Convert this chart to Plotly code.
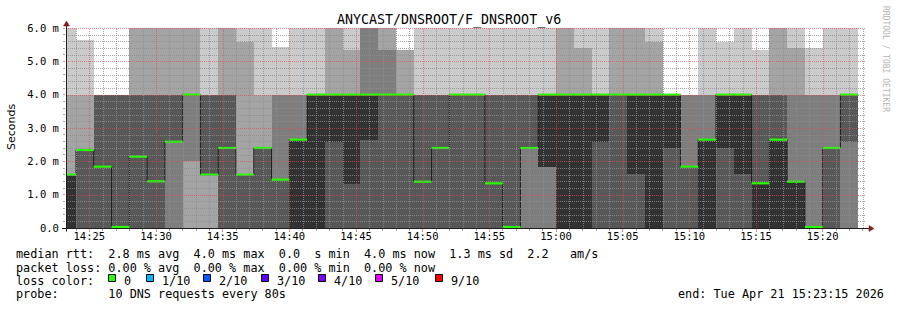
import math
import plotly.graph_objects as go
from datetime import datetime, timedelta

# ---------------- data ----------------
title_text = "ANYCAST/DNSROOT/F_DNSROOT_v6"
y_title = "Seconds"
first_step_start = "2026-04-21 14:22:40"
window_start = "2026-04-21 14:23:15"
window_end = "2026-04-21 15:23:15"
step_seconds = 80

# ten sorted DNS round-trip times per 80 s step (ms); 7.0 = above the 6 ms ceiling
ping1 = [0, 0, 0, 0, 0, 0, 0, 0, 0, 0, 0, 0, 0, 0, 0,
         0, 0, 0, 0, 0, 0, 0, 0, 0, 0, 0, 0, 0, 0, 0,
         0, 0, 0, 0, 0, 0, 0, 0, 0, 0, 0, 0, 0, 0, 0]
ping2 = [0, 0, 0, 0, 0, 0, 0, 0, 0, 0, 0, 0, 0, 0, 0,
         0, 0, 0, 0, 0, 0, 0, 0, 0, 0, 0, 0, 0, 0, 0,
         0, 0, 0, 0, 0, 0, 0, 0, 0, 0, 0, 0, 0, 0, 0]
ping3 = [0, 0, 0, 0, 0, 0, 0, 2.00, 1.60, 0, 0, 0, 0, 0, 0,
         0, 0, 0, 0, 0, 0, 0, 0, 0, 0, 0, 0, 0, 0, 0,
         0, 0, 0, 0, 0, 0, 0, 0, 0, 0, 0, 0, 0, 0, 0]
ping4 = [0, 0, 0, 0, 0, 0, 2.59, 4.00, 1.60, 0, 0, 0, 0, 0, 0,
         0, 0, 0, 0, 0, 0, 0, 0, 0, 0, 0, 2.40, 1.84, 0, 0,
         0, 0, 0, 0, 0, 0, 0, 0, 0, 0, 0, 0, 0.03, 0, 2.59]
ping5 = [0, 2.34, 1.84, 0.03, 2.14, 1.40, 2.59, 4.00, 1.60, 2.40, 1.60, 2.40, 1.45, 0, 0,
         2.59, 1.32, 2.65, 4.00, 4.00, 1.39, 2.40, 4.00, 4.00, 1.34, 0.03, 2.40, 1.84, 0, 0,
         2.59, 4.00, 1.62, 0, 2.40, 1.84, 0, 2.40, 1.62, 0, 0, 0, 0.03, 2.40, 4.00]
ping6 = [1.60, 2.34, 1.84, 0.03, 2.14, 1.40, 2.59, 4.00, 1.60, 2.40, 1.60, 2.40, 1.45, 2.65, 4.00,
         4.00, 4.00, 4.00, 4.00, 4.00, 1.39, 2.40, 4.00, 4.00, 1.34, 0.03, 2.40, 4.00, 4.00, 4.00,
         4.00, 4.00, 4.00, 4.00, 4.00, 1.84, 2.65, 4.00, 4.00, 1.34, 2.65, 1.39, 0.03, 2.40, 4.00]
ping7 = [1.60, 2.34, 4.00, 4.00, 4.00, 4.00, 4.00, 4.00, 4.00, 4.00, 1.60, 2.40, 1.45, 2.65, 4.00,
         4.00, 4.00, 4.00, 4.00, 4.00, 4.00, 4.00, 4.00, 4.00, 4.00, 4.00, 4.00, 4.00, 4.00, 4.00,
         4.00, 4.00, 4.00, 4.00, 4.00, 1.84, 2.65, 4.00, 4.00, 4.00, 4.00, 1.39, 0.03, 2.40, 4.00]
ping8 = [1.60, 2.34, 4.00, 4.00, 4.00, 4.00, 4.00, 4.00, 4.00, 4.00, 1.60, 2.40, 4.00, 4.00, 4.00,
         4.00, 4.00, 7.00, 5.34, 4.00, 4.00, 4.00, 4.00, 4.00, 4.00, 4.00, 4.00, 4.00, 4.00, 4.00,
         4.00, 4.00, 4.00, 4.00, 4.00, 4.00, 4.00, 4.00, 4.00, 4.00, 4.00, 4.00, 4.00, 4.00, 4.00]
ping9 = [4.00, 4.00, 4.00, 4.00, 7.00, 7.00, 7.00, 7.00, 4.00, 7.00, 5.59, 4.00, 4.00, 4.00, 4.00,
         7.00, 5.34, 7.00, 7.00, 5.34, 4.00, 4.00, 4.00, 4.00, 4.00, 4.00, 4.00, 4.00, 7.00, 5.40,
         4.00, 7.00, 7.00, 5.58, 4.00, 4.00, 4.00, 4.00, 4.00, 4.00, 7.00, 5.40, 4.00, 4.00, 4.00]
ping10 = [7.00, 5.64, 4.00, 4.00, 7.00, 7.00, 7.00, 7.00, 7.00, 7.00, 7.00, 7.00, 5.43, 7.00, 7.00,
          7.00, 7.00, 7.00, 7.00, 5.34, 7.00, 7.00, 7.00, 7.00, 7.00, 7.00, 7.00, 7.00, 7.00, 7.00,
          7.00, 7.00, 7.00, 7.00, 4.00, 4.00, 7.00, 5.58, 7.00, 5.35, 7.00, 7.00, 5.40, 7.00, 7.00]
median_ms = [1.60, 2.34, 1.84, 0.03, 2.14, 1.40, 2.59, 4.00, 1.60, 2.40, 1.60, 2.40, 1.45, 2.65, 4.00,
             4.00, 4.00, 4.00, 4.00, 4.00, 1.39, 2.40, 4.00, 4.00, 1.34, 0.03, 2.40, 4.00, 4.00, 4.00,
             4.00, 4.00, 4.00, 4.00, 4.00, 1.84, 2.65, 4.00, 4.00, 1.34, 2.65, 1.39, 0.03, 2.40, 4.00]
loss_class = [0, 0, 0, 0, 0, 0, 0, 0, 0, 0, 0, 0, 0, 0, 0,
              0, 0, 0, 0, 0, 0, 0, 0, 0, 0, 0, 0, 0, 0, 0,
              0, 0, 0, 0, 0, 0, 0, 0, 0, 0, 0, 0, 0, 0, 0]

smoke_colors = ["#cacaca", "#a4a4a4", "#7e7e7e", "#585858", "#323232"]
loss_labels = ["0", "1/10", "2/10", "3/10", "4/10", "5/10", "9/10"]
loss_colors = ["#26ff00", "#00b8ff", "#0059ff", "#5e00ff", "#7e00ff", "#dd00ff", "#ff0000"]

y_tick_vals = [0, 1, 2, 3, 4, 5, 6]
y_tick_text = ["0.0", "1.0 m", "2.0 m", "3.0 m", "4.0 m", "5.0 m", "6.0 m"]
x_tick_text = ["14:25", "14:30", "14:35", "14:40", "14:45", "14:50",
               "14:55", "15:00", "15:05", "15:10", "15:15", "15:20"]

legend_rtt = "median rtt:  2.8 ms avg  4.0 ms max  0.0  s min  4.0 ms now  1.3 ms sd  2.2   am/s"
legend_loss = "packet loss: 0.00 % avg  0.00 % max  0.00 % min  0.00 % now"
legend_color = "loss color:"
legend_probe = "probe:       10 DNS requests every 80s"
legend_end = "end: Tue Apr 21 15:23:15 2026"
watermark = "RRDTOOL / TOBI OETIKER"

# ---------------- layout constants ----------------
W, H = 897, 310
PL, PR, PT, PB = 66, 866, 28, 228
Y_MAX = 6.0
MONO = "DejaVu Sans Mono"
GRID = "rgba(143,143,143,0.8)"
MGRID = "rgba(222,79,79,0.65)"
AXIS = "#1f1f1f"
ARROW = "#801f1f"


def px(x):
    return (x - PL) / (PR - PL)


def py(y):
    return (PB - y) / (PB - PT)


fmt = "%Y-%m-%d %H:%M:%S"
t0 = datetime.strptime(first_step_start, fmt)
ws = datetime.strptime(window_start, fmt)
we = datetime.strptime(window_end, fmt)
sec_per_px = (we - ws).total_seconds() / (PR - PL)


def snap_x(t):
    # paper x of the centre of the pixel column holding time t
    p = PL + (t - ws).total_seconds() / sec_per_px
    return px(math.floor(p + 0.5) + 0.5)


def snap_y(v):
    p = PB - v * (PB - PT) / Y_MAX
    return py(math.floor(p + 0.5) + 0.5)


n = len(median_ms)
starts = [t0 + timedelta(seconds=step_seconds * k) for k in range(n)]
centers = [s + timedelta(seconds=step_seconds / 2) for s in starts]
ends = [s + timedelta(seconds=step_seconds) for s in starts]
pings = [ping1, ping2, ping3, ping4, ping5, ping6, ping7, ping8, ping9, ping10]

fig = go.Figure()

# smoke: band i spans ping(i) .. ping(11-i), darker towards the middle
for i in range(5):
    lo = pings[i]
    hi = pings[9 - i]
    fig.add_trace(go.Bar(
        x=centers, base=lo, y=[h - l for l, h in zip(lo, hi)],
        width=step_seconds * 1000,
        marker=dict(color=smoke_colors[i], line=dict(width=0)),
        hoverinfo="skip", showlegend=False))

# thin median step line
fig.add_trace(go.Scatter(
    x=starts + [ends[-1]],
    y=median_ms + [median_ms[-1]],
    mode="lines", line=dict(color="#202020", width=1, shape="hv"),
    hoverinfo="skip", showlegend=False))

# loss-coloured median segments (no vertical joins)
for c, col in enumerate(loss_colors):
    xs, ys = [], []
    for s, e, m, lc in zip(starts, ends, median_ms, loss_class):
        if lc == c:
            xs += [s, e, None]
            ys += [m, m, None]
    if xs:
        fig.add_trace(go.Scatter(x=xs, y=ys, mode="lines", line=dict(color=col, width=2.2),
                                 connectgaps=False, hoverinfo="skip", showlegend=False))

# ---------------- grid (rrdtool draws it on top) ----------------
shapes = []
x_tick_vals = []
minor_x = []
t = ws.replace(second=0) + timedelta(minutes=1)
while t <= we:
    if t.minute % 5 == 0:
        x_tick_vals.append(t)
    else:
        minor_x.append(t)
    t += timedelta(minutes=1)
x_tick_vals = x_tick_vals[:len(x_tick_text)]
minor_y = [k / 5 for k in range(1, 30) if k % 5]
dash = "1px,1px"
for t in minor_x:
    xp = snap_x(t)
    shapes.append(dict(type="line", xref="paper", yref="paper", x0=xp, x1=xp, y0=0, y1=1,
                       line=dict(color=GRID, width=1, dash=dash), layer="above"))
for v in minor_y:
    yp = snap_y(v)
    shapes.append(dict(type="line", xref="paper", yref="paper", x0=0, x1=1, y0=yp, y1=yp,
                       line=dict(color=GRID, width=1, dash=dash), layer="above"))
for t in x_tick_vals:
    xp = snap_x(t)
    shapes.append(dict(type="line", xref="paper", yref="paper", x0=xp, x1=xp, y0=0, y1=1,
                       line=dict(color=MGRID, width=1, dash=dash), layer="above"))
for v in y_tick_vals[1:]:
    yp = snap_y(v)
    shapes.append(dict(type="line", xref="paper", yref="paper", x0=0, x1=1, y0=yp, y1=yp,
                       line=dict(color=MGRID, width=1, dash=dash), layer="above"))

# axes with arrows
shapes.append(dict(type="line", xref="paper", yref="paper", x0=px(62), x1=px(869), y0=py(228.5), y1=py(228.5),
                   line=dict(color=AXIS, width=1), layer="above"))
shapes.append(dict(type="line", xref="paper", yref="paper", x0=px(66.5), x1=px(66.5), y0=py(231.5), y1=py(25),
                   line=dict(color=AXIS, width=1), layer="above"))
shapes.append(dict(type="path", xref="paper", yref="paper",
                   path=f"M {px(869)},{py(225.5)} L {px(874)},{py(228.5)} L {px(869)},{py(231.5)} Z",
                   fillcolor=ARROW, line=dict(color=ARROW, width=0.5), layer="above"))
shapes.append(dict(type="path", xref="paper", yref="paper",
                   path=f"M {px(63.5)},{py(26)} L {px(66.5)},{py(21)} L {px(69.5)},{py(26)} Z",
                   fillcolor=ARROW, line=dict(color=ARROW, width=0.5), layer="above"))

# legend colour boxes
box_x = [108, 146, 203, 261, 318, 375, 435]
annotations = []
for bx, lab, col in zip(box_x, loss_labels, loss_colors):
    shapes.append(dict(type="rect", xref="paper", yref="paper",
                       x0=px(bx + 0.5), x1=px(bx + 7.5), y0=py(274.5), y1=py(281.5),
                       fillcolor=col, line=dict(color="black", width=1)))
    annotations.append(dict(text=lab, x=px(bx + 14.5), y=py(280.5)))

nb = lambda s: s.replace(" ", "\u00a0")
annotations += [
    dict(text=nb(legend_rtt), x=px(15.3), y=py(254.2)),
    dict(text=nb(legend_loss), x=px(15.3), y=py(267.6)),
    dict(text=nb(legend_color), x=px(15.3), y=py(280.5)),
    dict(text=nb(legend_probe), x=px(15.3), y=py(294.2)),
    dict(text=nb(legend_end), x=px(677), y=py(294.2)),
]
for a in annotations:
    a.update(xref="paper", yref="paper", xanchor="left", yanchor="middle", showarrow=False,
             borderpad=0, font=dict(family=MONO, size=11.8, color="black"))

annotations.append(dict(text=title_text, x=px(448.5), y=py(19.5), xref="paper", yref="paper",
                        xanchor="center", yanchor="middle", showarrow=False, borderpad=0,
                        font=dict(family=MONO, size=13.3, color="black")))
annotations.append(dict(text=y_title, x=px(11), y=py(127), xref="paper", yref="paper",
                        xanchor="center", yanchor="middle", textangle=-90, showarrow=False, borderpad=0,
                        font=dict(family="DejaVu Sans", size=11, color="black")))
annotations.append(dict(text=nb(watermark), x=px(886), y=py(59), xref="paper", yref="paper",
                        xanchor="center", yanchor="middle", textangle=90, showarrow=False, borderpad=0,
                        font=dict(family=MONO, size=8, color="#b4b4b4")))

fig.update_layout(
    width=W, height=H,
    margin=dict(l=PL, r=W - PR, t=PT, b=H - PB, pad=0),
    paper_bgcolor="white", plot_bgcolor="white",
    barmode="overlay", bargap=0, showlegend=False,
    shapes=shapes, annotations=annotations,
    xaxis=dict(type="date", range=[window_start, window_end], tickmode="array",
               tickvals=x_tick_vals, ticktext=x_tick_text,
               ticks="outside", ticklen=3, tickcolor=MGRID, tickwidth=1, ticklabelstandoff=-5,
               tickfont=dict(family=MONO, size=10.5, color="black"),
               showgrid=False, zeroline=False, showline=False, automargin=False,
               minor=dict(tickvals=minor_x, ticks="outside", ticklen=2, tickcolor=GRID, showgrid=False)),
    yaxis=dict(range=[0, Y_MAX], tickmode="array", tickvals=y_tick_vals, ticktext=y_tick_text,
               ticks="outside", ticklen=2, tickcolor=MGRID, tickwidth=1, ticklabelstandoff=2,
               tickfont=dict(family=MONO, size=10.5, color="black"),
               showgrid=False, zeroline=False, showline=False, automargin=False,
               minor=dict(tickvals=minor_y, ticks="outside", ticklen=2, tickcolor=GRID, showgrid=False)),
)

fig.write_html("out.html")
